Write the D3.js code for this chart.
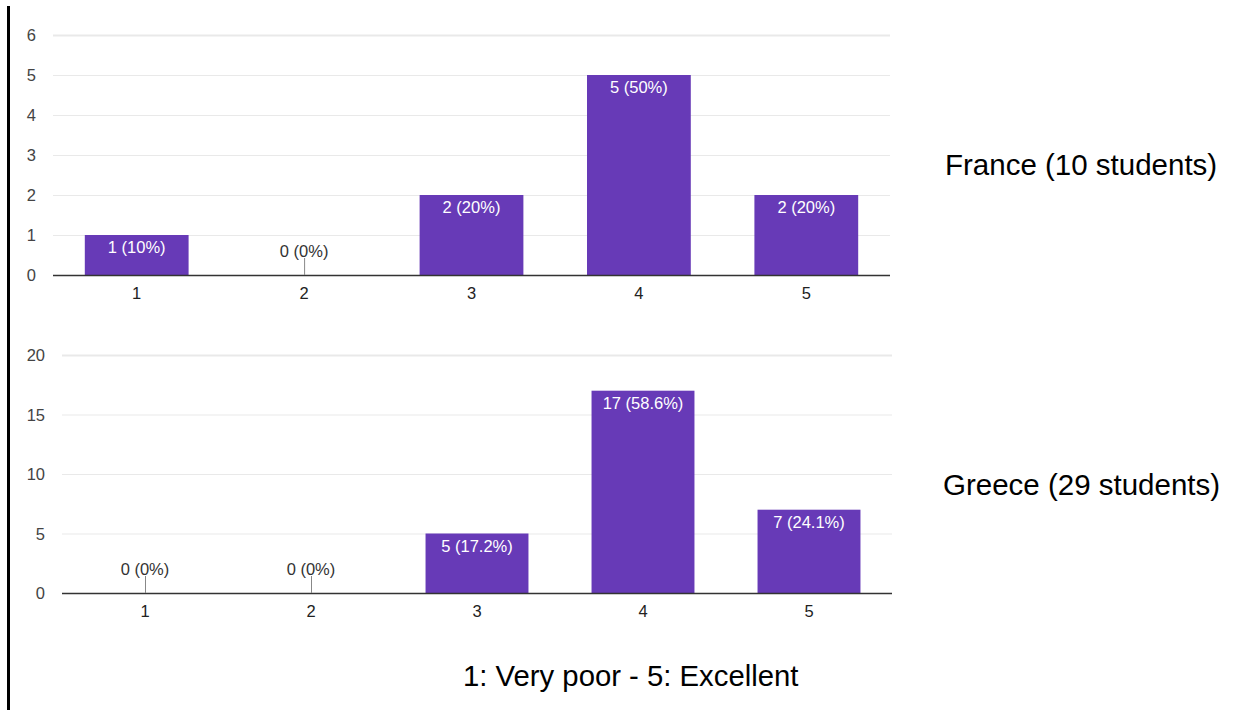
<!DOCTYPE html>
<html>
<head>
<meta charset="utf-8">
<script src="https://cdn.jsdelivr.net/npm/d3@7"></script>
<style>
  html, body { margin: 0; padding: 0; background: #fff; }
  svg { display: block; font-family: Arial, "Liberation Sans", sans-serif; }
</style>
</head>
<body>
<svg id="chart" width="1255" height="710"></svg>
<script>
// Rating scale shared by both panels
const ratings = ["1", "2", "3", "4", "5"];

// Responses per rating
const franceCounts = [1, 0, 2, 5, 2];
const franceLabels = ["1 (10%)", "0 (0%)", "2 (20%)", "5 (50%)", "2 (20%)"];
const franceTicks = [0, 1, 2, 3, 4, 5, 6];

const greeceCounts = [0, 0, 5, 17, 7];
const greeceLabels = ["0 (0%)", "0 (0%)", "5 (17.2%)", "17 (58.6%)", "7 (24.1%)"];
const greeceTicks = [0, 5, 10, 15, 20];

const panelTitles = ["France (10 students)", "Greece (29 students)"];
const scaleNote = "1: Very poor - 5: Excellent";

const svg = d3.select("#chart");
const BAR = "#673ab7";
const FONT = "Arial, 'Liberation Sans', sans-serif";
const SMALL = 16.5;

// left border rule
svg.append("rect").attr("x", 7).attr("y", 6).attr("width", 3).attr("height", 704).attr("fill", "#000");

function panel(cfg) {
  const g = svg.append("g");
  const x = d3.scaleBand().domain(ratings).range([cfg.x0, cfg.x1]).paddingInner(0.38).paddingOuter(0.19);
  const y = d3.scaleLinear().domain([0, d3.max(cfg.ticks)]).range([cfg.yBase, cfg.yTop]);

  // horizontal gridlines
  g.selectAll("line.grid").data(cfg.ticks.filter(t => t > 0)).join("line")
    .attr("class", "grid")
    .attr("x1", cfg.x0).attr("x2", cfg.x1)
    .attr("y1", d => y(d) + 0.5).attr("y2", d => y(d) + 0.5)
    .attr("stroke", "#e9e9e9").attr("stroke-width", d => d === d3.max(cfg.ticks) ? 2 : 1);

  // y axis labels
  const ya = d3.axisLeft(y).tickValues(cfg.ticks).tickFormat(d3.format("d"))
    .tickSize(0).tickPadding(cfg.x0 - cfg.labelRight);
  g.append("g").attr("transform", `translate(${cfg.x0},0)`).call(ya)
    .call(s => s.select(".domain").remove())
    .call(s => s.selectAll("text").attr("font-size", SMALL).attr("fill", "#444")
      .attr("font-family", FONT).attr("dy", "0.35em"));

  // bars
  g.selectAll("rect.bar").data(cfg.counts).join("rect")
    .attr("class", "bar")
    .attr("x", (d, i) => x(ratings[i]))
    .attr("width", x.bandwidth())
    .attr("y", d => y(d))
    .attr("height", d => cfg.yBase - y(d))
    .attr("fill", BAR);

  // baseline
  g.append("line").attr("x1", cfg.x0).attr("x2", cfg.x1)
    .attr("y1", cfg.yBase + 0.5).attr("y2", cfg.yBase + 0.5)
    .attr("stroke", "#333").attr("stroke-width", 1.5);

  // x axis labels
  const xa = d3.axisBottom(x).tickSize(0).tickPadding(0);
  g.append("g").attr("transform", `translate(0,${cfg.yBase})`).call(xa)
    .call(s => s.select(".domain").remove())
    .call(s => s.selectAll("text").attr("font-size", SMALL).attr("fill", "#222")
      .attr("font-family", FONT).attr("y", 24).attr("dy", null));

  // value annotations
  cfg.counts.forEach((d, i) => {
    const cx = x(ratings[i]) + x.bandwidth() / 2;
    if (d > 0) {
      g.append("text").attr("x", cx).attr("y", y(d) + 18)
        .attr("text-anchor", "middle").attr("font-size", SMALL).attr("fill", "#fff")
        .text(cfg.labels[i]);
    } else {
      g.append("line").attr("x1", cx + 0.5).attr("x2", cx + 0.5)
        .attr("y1", cfg.yBase - 17).attr("y2", cfg.yBase)
        .attr("stroke", "#888").attr("stroke-width", 1);
      g.append("text").attr("x", cx).attr("y", cfg.yBase - 18)
        .attr("text-anchor", "middle").attr("font-size", SMALL).attr("fill", "#333")
        .text(cfg.labels[i]);
    }
  });

  // panel title on the right
  svg.append("text").attr("x", cfg.titleX).attr("y", cfg.titleY)
    .attr("font-size", 29.5).attr("fill", "#000").text(cfg.title);
}

panel({ counts: franceCounts, labels: franceLabels, ticks: franceTicks,
  x0: 53, x1: 890, yTop: 35, yBase: 275, labelRight: 36,
  title: panelTitles[0], titleX: 945, titleY: 175 });

panel({ counts: greeceCounts, labels: greeceLabels, ticks: greeceTicks,
  x0: 62, x1: 892, yTop: 355, yBase: 593, labelRight: 45,
  title: panelTitles[1], titleX: 943, titleY: 495 });

svg.append("text").attr("x", 463).attr("y", 686)
  .attr("font-size", 29.3).attr("fill", "#000").text(scaleNote);
</script>
</body>
</html>
